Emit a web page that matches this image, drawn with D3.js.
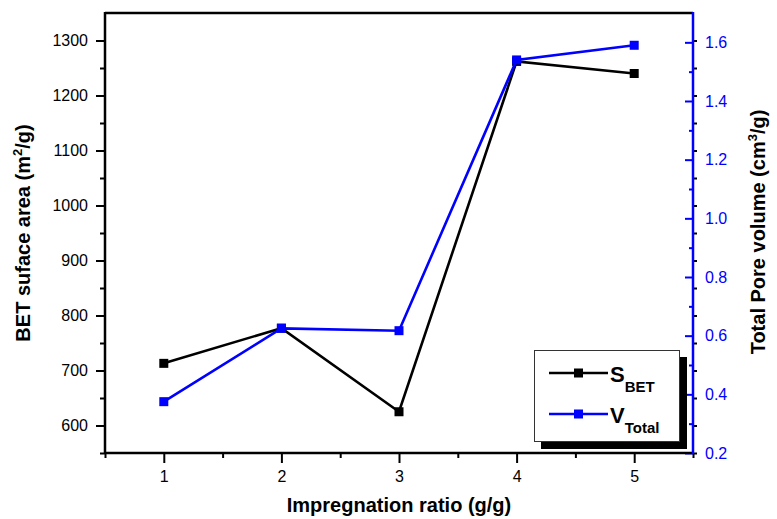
<!DOCTYPE html>
<html>
<head>
<meta charset="utf-8">
<script src="https://cdn.jsdelivr.net/npm/d3@7"></script>
<style>
  html, body { margin: 0; padding: 0; background: #fff; }
  svg { display: block; font-family: "Liberation Sans", Arial, Helvetica, sans-serif; }
</style>
</head>
<body>
<div id="chart"></div>
<script>
// values
var ratios = [1, 2, 3, 4, 5];
var sBET = [713, 777, 625, 1262, 1240];
var vTotal = [0.375, 0.625, 0.617, 1.54, 1.59];

var xTicks = [1, 2, 3, 4, 5];
var xMinor = [0.5, 1.5, 2.5, 3.5, 4.5, 5.5];
var leftTicks = [600, 700, 800, 900, 1000, 1100, 1200, 1300];
var leftMinor = [550, 650, 750, 850, 950, 1050, 1150, 1250];
var rightTicks = [0.2, 0.4, 0.6, 0.8, 1.0, 1.2, 1.4, 1.6];
var rightMinor = [0.3, 0.5, 0.7, 0.9, 1.1, 1.3, 1.5];

var W = 777, H = 519;
var pLeft = 105, pRight = 693, pTop = 13, pBottom = 453;
var blue = "#0000ff";

var svg = d3.select("#chart").append("svg")
    .attr("width", W)
    .attr("height", H);

var x = d3.scaleLinear().domain([0.5, 5.5]).range([pLeft, pRight]);
var yL = d3.scaleLinear().domain([550, 1350]).range([pBottom, pTop]);
var yR = d3.scaleLinear().domain([0.2, 1.7]).range([pBottom, pTop]);

function styleAxis(g, color) {
  g.attr("font-size", 16).attr("font-family", "Liberation Sans, Arial, sans-serif");
  g.select(".domain").remove();
  g.selectAll(".tick line").attr("stroke", color).attr("stroke-width", 2);
  g.selectAll(".tick text").attr("fill", color).style("font-size", "16px");
}

// bottom axis
svg.append("g")
    .attr("transform", "translate(0," + pBottom + ")")
    .call(d3.axisBottom(x).tickValues(xTicks).tickSize(10).tickPadding(8).tickFormat(d3.format("d")))
    .call(styleAxis, "#000");
svg.append("g")
    .attr("transform", "translate(0," + pBottom + ")")
    .call(d3.axisBottom(x).tickValues(xMinor).tickSize(5).tickFormat(""))
    .call(styleAxis, "#000");

// left axis
svg.append("g")
    .attr("transform", "translate(" + pLeft + ",0)")
    .call(d3.axisLeft(yL).tickValues(leftTicks).tickSize(9).tickPadding(8).tickFormat(d3.format("d")))
    .call(styleAxis, "#000");
svg.append("g")
    .attr("transform", "translate(" + pLeft + ",0)")
    .call(d3.axisLeft(yL).tickValues(leftMinor).tickSize(5).tickFormat(""))
    .call(styleAxis, "#000");

// small mirrored ticks of the left scale on the right side
svg.append("g")
    .attr("transform", "translate(" + pRight + ",0)")
    .call(d3.axisRight(yL).tickValues(leftTicks.concat(leftMinor)).tickSize(4).tickFormat(""))
    .call(styleAxis, "#000");

// right axis (ticks pointing inward)
svg.append("g")
    .attr("transform", "translate(" + pRight + ",0)")
    .call(d3.axisRight(yR).tickValues(rightTicks).tickSizeInner(-8).tickSizeOuter(0).tickPadding(12).tickFormat(d3.format(".1f")))
    .call(styleAxis, blue);
svg.append("g")
    .attr("transform", "translate(" + pRight + ",0)")
    .call(d3.axisRight(yR).tickValues(rightMinor).tickSizeInner(-4).tickSizeOuter(0).tickFormat(""))
    .call(styleAxis, blue);

// frame
svg.append("line").attr("x1", pLeft).attr("x2", pRight).attr("y1", pTop).attr("y2", pTop)
    .attr("stroke", "#000").attr("stroke-width", 2.5);
svg.append("line").attr("x1", pLeft).attr("x2", pRight).attr("y1", pBottom).attr("y2", pBottom)
    .attr("stroke", "#000").attr("stroke-width", 2.5);
svg.append("line").attr("x1", pLeft).attr("x2", pLeft).attr("y1", pTop - 1).attr("y2", pBottom + 1)
    .attr("stroke", "#000").attr("stroke-width", 2.5);
svg.append("line").attr("x1", pRight).attr("x2", pRight).attr("y1", pTop - 1).attr("y2", pBottom + 1)
    .attr("stroke", blue).attr("stroke-width", 2.5);

// series
function drawSeries(vals, yScale, color) {
  var pts = ratios.map(function(r, i) { return [x(r), yScale(vals[i])]; });
  svg.append("path")
      .attr("d", d3.line()(pts))
      .attr("fill", "none")
      .attr("stroke", color)
      .attr("stroke-width", 2.6);
  svg.selectAll(null).data(pts).enter().append("rect")
      .attr("x", function(d) { return d[0] - 4.5; })
      .attr("y", function(d) { return d[1] - 4.5; })
      .attr("width", 9).attr("height", 9)
      .attr("fill", color);
}
drawSeries(sBET, yL, "#000");
drawSeries(vTotal, yR, blue);

// axis titles
svg.append("text")
    .attr("x", x(3)).attr("y", 512)
    .attr("text-anchor", "middle")
    .attr("font-size", 20).attr("font-weight", "bold")
    .text("Impregnation ratio (g/g)");

var lt = svg.append("text")
    .attr("transform", "translate(30,233) rotate(-90)")
    .attr("text-anchor", "middle")
    .attr("font-size", 20).attr("font-weight", "bold");
lt.append("tspan").text("BET suface area (m");
lt.append("tspan").attr("font-size", 13).attr("dy", -8).text("2");
lt.append("tspan").attr("dy", 8).text("/g)");

var rt = svg.append("text")
    .attr("transform", "translate(765,232) rotate(-90)")
    .attr("text-anchor", "middle")
    .attr("font-size", 20).attr("font-weight", "bold");
rt.append("tspan").text("Total Pore volume (cm");
rt.append("tspan").attr("font-size", 13).attr("dy", -8).text("3");
rt.append("tspan").attr("dy", 8).text("/g)");

// legend
var lg = svg.append("g");
lg.append("rect").attr("x", 541).attr("y", 357).attr("width", 146).attr("height", 92).attr("fill", "#000");
lg.append("rect").attr("x", 534.5).attr("y", 350.5).attr("width", 145).attr("height", 91)
    .attr("fill", "#fff").attr("stroke", "#333").attr("stroke-width", 1);

var legendItems = [
  {color: "#000", y: 373, main: "S", sub: "BET"},
  {color: blue, y: 414, main: "V", sub: "Total"}
];
legendItems.forEach(function(d) {
  lg.append("line").attr("x1", 549).attr("x2", 608).attr("y1", d.y).attr("y2", d.y)
      .attr("stroke", d.color).attr("stroke-width", 2.6);
  lg.append("rect").attr("x", 578.5 - 4.5).attr("y", d.y - 4.5).attr("width", 9).attr("height", 9)
      .attr("fill", d.color);
  var t = lg.append("text").attr("x", 610).attr("y", d.y + 8.5)
      .attr("font-weight", "bold").attr("font-size", 22);
  t.append("tspan").text(d.main);
  t.append("tspan").attr("font-size", 15).attr("dy", 10).text(d.sub);
});
</script>
</body>
</html>
